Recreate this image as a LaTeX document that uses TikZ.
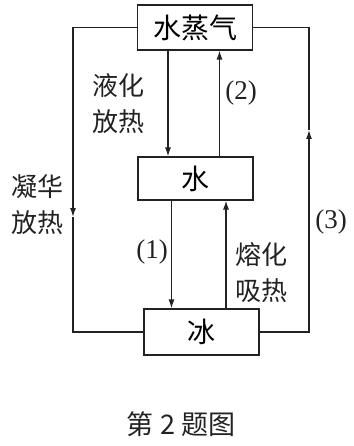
\documentclass[tikz,border=0pt]{standalone}
\usepackage{fontspec}
\setmainfont{Liberation Serif}
\newfontfamily\cjk{Noto Sans CJK SC}
\usetikzlibrary{arrows.meta,calc,positioning}
\definecolor{ink}{HTML}{222222}

\begin{document}
\begin{tikzpicture}[x=1pt,y=-1pt,>={Latex[length=9pt,width=6pt]},line width=1.2pt,
  state/.style={draw=ink,minimum width=115pt,minimum height=45pt,inner sep=0pt,font=\cjk\fontsize{28}{32}\selectfont},
  tag/.style={text=ink,align=left,inner sep=0pt,font=\cjk\fontsize{26}{36}\selectfont},
  num/.style={text=ink,inner sep=0pt,font=\fontsize{27}{30}\selectfont}]
\useasboundingbox (0,0) rectangle (353,446);
\node[state] (vapor) at (195,27.5) {水蒸气};
\node[state,minimum height=43pt] (water) at (195.5,178.5) {水};
\node[state,minimum height=46pt] (ice) at (201.5,332) {冰};
% vapor <-> water
\draw[->,ink] ([xshift=-27pt]vapor.south) -- ([xshift=-27pt]vapor.south |- water.north);
\draw[->,ink] ([xshift=24pt]water.north) -- ([xshift=24pt]water.north |- vapor.south);
% water <-> ice
\draw[->,ink] ([xshift=-24pt]water.south) -- ([xshift=-24pt]water.south |- ice.north);
\draw[->,ink] ([xshift=24.5pt]ice.north) -- ([xshift=24.5pt]ice.north |- water.south);
% outer loops
\coordinate (lmid) at (73,217);
\coordinate (rmid) at (309,130);
\draw[->,ink] (vapor.west) -| (lmid);
\draw[ink] (lmid) |- (ice.west);
\draw[->,ink] (ice.east) -| (rmid);
\draw[ink] (rmid) |- (vapor.east);
% labels
\node[tag] (l1) at (118,104) {液化\\放热};
\node[tag] (l2) at (37,205) {凝华\\放热};
\node[tag] (l3) at (261,273) {熔化\\吸热};
\node[num] (n1) at (152,252) {(1)};
\node[num] (n2) at (241,93) {(2)};
\node[num] (n3) at (331,222) {(3)};
\node[text=ink,font=\cjk\fontsize{27}{30}\selectfont] (cap) at (181,424) {第 2 题图};
\end{tikzpicture}
\end{document}
